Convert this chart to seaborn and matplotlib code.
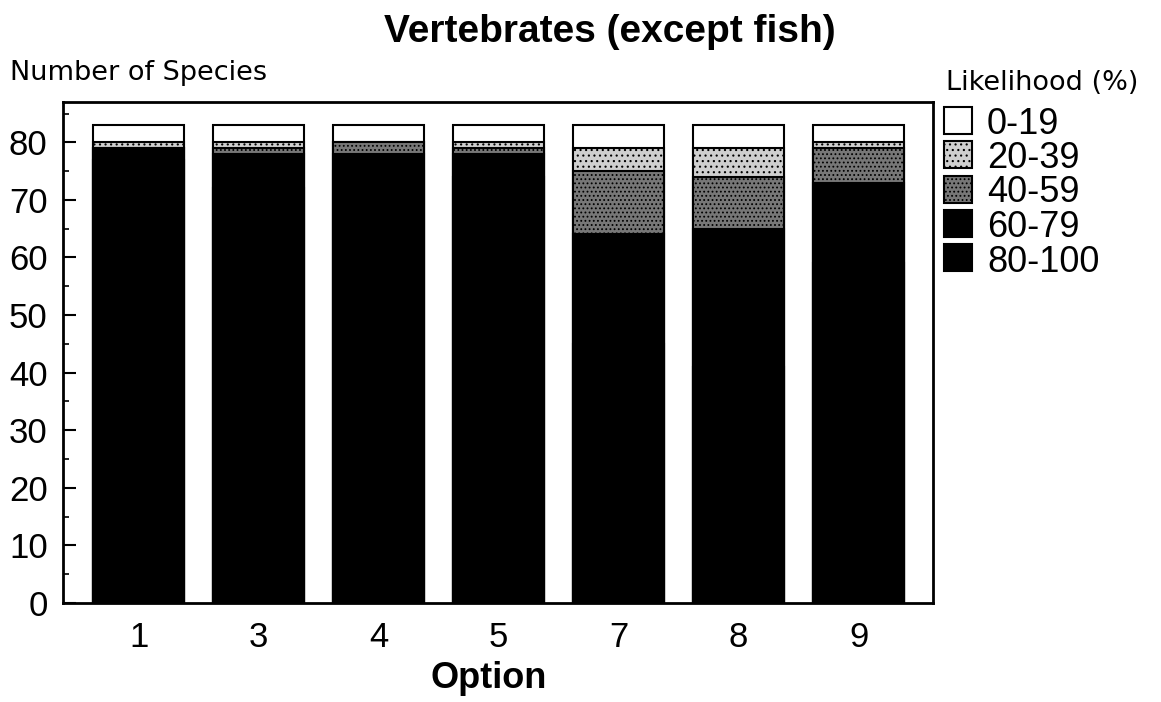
import numpy as np
import pandas as pd
import matplotlib

matplotlib.use("Agg")
import matplotlib.pyplot as plt
from matplotlib.patches import Rectangle
from matplotlib.ticker import MultipleLocator
import seaborn as sns

# ---------------------------------------------------------------
# Datos (número de especies por clase de probabilidad)
# ---------------------------------------------------------------
options = ["1", "3", "4", "5", "7", "8", "9"]
p80_100 = [77, 72, 75, 74, 45, 41, 59]
p60_79 = [2, 6, 3, 4, 19, 24, 14]
p40_59 = [0, 1, 2, 1, 11, 9, 6]
p20_39 = [1, 1, 0, 1, 4, 5, 1]
p0_19 = [3, 3, 3, 3, 4, 4, 3]

legend_labels = ["0-19", "20-39", "40-59", "60-79", "80-100"]

STYLES = {
    "0-19":   dict(color="#ffffff", hatch=None),
    "20-39":  dict(color="#cfcfcf", hatch="..."),
    "40-59":  dict(color="#777777", hatch="...."),
    "60-79":  dict(color="#000000", hatch=None),
    "80-100": dict(color="#000000", hatch=None),
}

sns.set_style("ticks")
plt.rcParams["font.family"] = ["Liberation Sans", "DejaVu Sans"]
plt.rcParams.update({
    "text.color": "black",
    "xtick.color": "black",
    "ytick.color": "black",
    "axes.edgecolor": "black",
    "hatch.linewidth": 0.8,
})

df = pd.DataFrame({
    "Option": options,
    "80-100": p80_100,
    "60-79": p60_79,
    "40-59": p40_59,
    "20-39": p20_39,
    "0-19": p0_19,
})
# acumulados de abajo hacia arriba
stack_order = ["80-100", "60-79", "40-59", "20-39", "0-19"]
cum = df[stack_order].cumsum(axis=1)

W, H = 1161, 702
fig = plt.figure(figsize=(W / 100, H / 100), dpi=100)
ax = fig.add_axes([63 / W, 1 - 603 / H, (933 - 63) / W, (603 - 102) / H])

# dibujar de la capa superior a la inferior
for key in reversed(stack_order):
    st = STYLES[key]
    sns.barplot(
        x=df["Option"], y=cum[key], order=options,
        color=st["color"], saturation=1, width=0.76,
        edgecolor="black", linewidth=1.5, hatch=st["hatch"],
        errorbar=None, ax=ax,
    )

ax.set_xlim(-0.63, 6.62)
ax.set_ylim(0, 87)
ax.yaxis.set_major_locator(MultipleLocator(10))
ax.yaxis.set_minor_locator(MultipleLocator(5))
ax.tick_params(axis="y", which="major", direction="in", length=9,
               width=1.5, labelsize=25, pad=11)
ax.tick_params(axis="y", which="minor", direction="in", length=4.5, width=1.2)
ax.tick_params(axis="x", length=0, labelsize=25, pad=13)
ax.set_xlabel("")
ax.set_ylabel("")
for sp in ax.spines.values():
    sp.set_visible(True)
    sp.set_linewidth(2)

# textos
fig.text(610 / W, 1 - 42 / H, "Vertebrates (except fish)", ha="center",
         va="baseline", fontsize=28, fontweight="bold")
fig.text(10 / W, 1 - 80 / H, "Number of Species", ha="left",
         va="baseline", fontsize=19.5, family=["DejaVu Sans"])
fig.text(489 / W, 1 - 688 / H, "Option", ha="center", va="baseline",
         fontsize=26, fontweight="bold")

# leyenda manual
fig.text(946 / W, 1 - 90 / H, "Likelihood (%)", ha="left", va="baseline",
         fontsize=19.5, family=["DejaVu Sans"])
for i, lab in enumerate(legend_labels):
    yc = 120 + 34.5 * i
    st = STYLES[lab]
    fig.add_artist(Rectangle(
        (944 / W, 1 - (yc + 13.5) / H), 28 / W, 27 / H,
        transform=fig.transFigure, facecolor=st["color"],
        edgecolor="black", linewidth=1.5, hatch=st["hatch"],
    ))
    fig.text(987 / W, 1 - yc / H, lab, ha="left", va="center_baseline",
             fontsize=26)

fig.savefig("out.png", dpi=100)
plt.close(fig)
